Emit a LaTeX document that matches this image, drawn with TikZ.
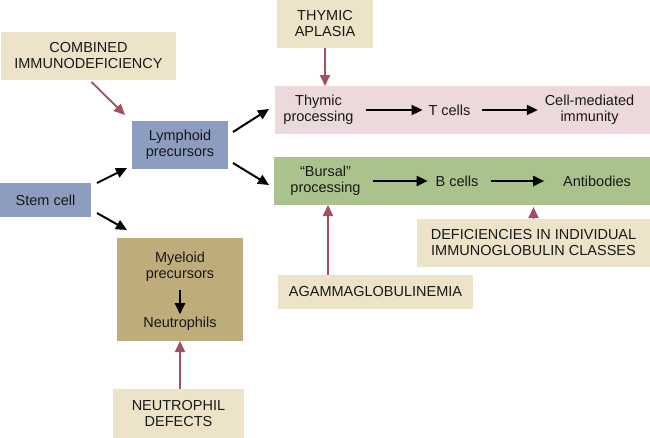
\documentclass[tikz,border=0pt]{standalone}
\usepackage{fontspec}
\setmainfont{Liberation Sans}
\usetikzlibrary{arrows.meta,calc}
\definecolor{beige}{RGB}{236,227,201}
\definecolor{pinkbox}{RGB}{235,217,219}
\definecolor{greenbox}{RGB}{170,194,140}
\definecolor{bluebox}{RGB}{140,157,192}
\definecolor{olivebox}{RGB}{190,172,122}
\definecolor{redarrow}{RGB}{160,80,95}
\tikzset{
  box/.style={rectangle, inner sep=0pt, outer sep=0pt, align=center, font=\fontsize{14.5}{16}\selectfont, text=black!90},
  txt/.style={inner sep=0pt, outer sep=0pt, align=center, font=\fontsize{14.5}{16}\selectfont, text=black!90},
  blk/.style={draw=black, line width=2pt, -{Triangle[length=11pt,width=10pt]}},
  red/.style={draw=redarrow, line width=1.8pt, -{Triangle[length=11pt,width=10pt]}}
}
\begin{document}
\begin{tikzpicture}[x=1pt,y=-1pt]
\useasboundingbox (0,0) rectangle (650,437);
% boxes
\node[box, fill=beige, minimum width=175, minimum height=48] (comb) at (88.5,56) {COMBINED\\IMMUNODEFICIENCY};
\node[box, fill=beige, minimum width=96, minimum height=49] (thyap) at (325,23.5) {THYMIC\\APLASIA};
\node[box, fill=pinkbox, minimum width=375, minimum height=48] (pink) at (462.5,110) {};
\node[box, fill=greenbox, minimum width=376, minimum height=48] (green) at (462,181) {};
\node[box, fill=bluebox, minimum width=96, minimum height=48] (lymph) at (180,145) {Lymphoid\\precursors};
\node[box, fill=bluebox, minimum width=91, minimum height=34] (stem) at (45.5,200) {Stem cell};
\node[box, fill=olivebox, minimum width=126, minimum height=103] (mye) at (180,289.5) {};
\node[box, fill=beige, minimum width=131, minimum height=49] (neut) at (178.5,413.5) {NEUTROPHIL\\DEFECTS};
\node[box, fill=beige, minimum width=195, minimum height=34] (agam) at (375.5,292) {AGAMMAGLOBULINEMIA};
\node[box, fill=beige, minimum width=233, minimum height=48] (defi) at (533.5,243) {DEFICIENCIES IN INDIVIDUAL\\IMMUNOGLOBULIN CLASSES};
% texts in bands
\node[txt] (thymproc) at (318.5,110) {Thymic\\processing};
\node[txt] (tcells) at (449.5,110) {T cells};
\node[txt] (cmi) at (589.5,110) {Cell-mediated\\immunity};
\node[txt] (bursal) at (325.5,181) {``Bursal''\\processing};
\node[txt] (bcells) at (457,181) {B cells};
\node[txt] (antib) at (597,181) {Antibodies};
\node[txt] (myetxt) at (180,267) {Myeloid\\precursors};
\node[txt] (neutro) at (180,324) {Neutrophils};
% helper coordinates
\coordinate (agtop) at ($(agam.north west)+(50,0)$);
% black arrows
\draw[blk] ($(stem.north east)+(6,0)$) -- ($(lymph.south west)+(-5,-1)$);
\draw[blk] ($(stem.east)+(6,13)$) -- ($(mye.north west)+(10,-8)$);
\draw[blk] ($(lymph.east)+(5,-13)$) -- ($(pink.west)+(-6,-1)$);
\draw[blk] ($(lymph.east)+(5,18)$) -- ($(green.west)+(-5,4)$);
\draw[blk] ($(thymproc.east |- tcells.west)+(12,0)$) -- ($(tcells.west)+(-6,0)$);
\draw[blk] ($(tcells.east)+(12,0)$) -- ($(cmi.west |- tcells.west)+(-7,0)$);
\draw[blk] ($(bursal.east |- bcells.west)+(12,0)$) -- ($(bcells.west)+(-8,0)$);
\draw[blk] ($(bcells.east)+(13,0)$) -- ($(antib.west)+(-19,0)$);
\draw[blk] ($(myetxt.south)+(0,8)$) -- ($(neutro.north)+(0,-3)$);
% red arrows
\draw[red] ($(comb.south)+(3,2)$) -- ($(lymph.north west)+(-7,-6)$);
\draw[red] (thyap.south) -- (thyap.south |- pink.north);
\draw[red] (agtop) -- (agtop |- green.south);
\draw[red] (defi.north) -- ++(0,-12);
\draw[red] (neut.north -| mye.south) -- (mye.south);
\end{tikzpicture}
\end{document}
